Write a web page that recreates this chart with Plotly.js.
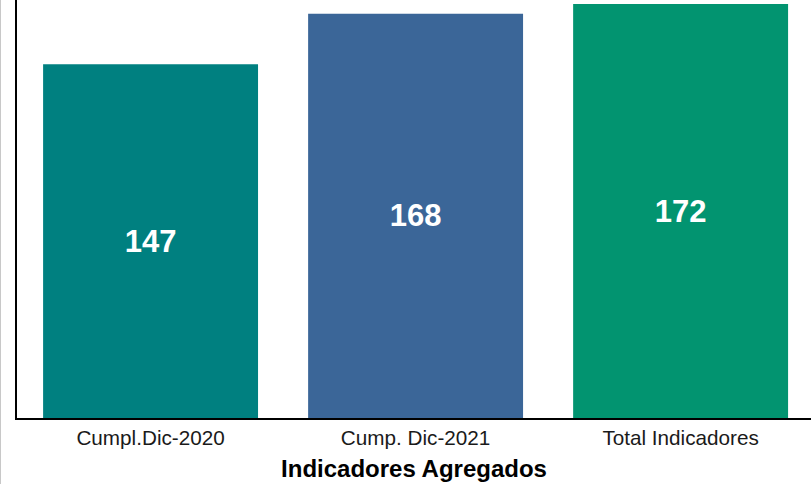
<!DOCTYPE html>
<html>
<head>
<meta charset="utf-8">
<script src="https://cdn.plot.ly/plotly-3.0.1.min.js"></script>
<style>
  html, body { margin: 0; padding: 0; background: #fff; }
  #wrap { position: relative; width: 811px; height: 484px; }
  #chart { position: absolute; left: 0; top: 0; width: 811px; height: 484px; }
  #edge { position: absolute; left: 0; top: 0; width: 1px; height: 484px; background: #c8c8c8; }
</style>
</head>
<body>
<div id="wrap"><div id="chart"></div><div id="edge"></div></div>
<script>
const categories = ["Cumpl.Dic-2020", "Cump. Dic-2021", "Total Indicadores"];
const values = [147, 168, 172];
const barColors = ["#008080", "#3B6698", "#029470"];
const xTitle = "Indicadores Agregados";

const trace = {
  type: "bar",
  x: categories,
  y: values,
  text: values.map(String),
  textposition: "inside",
  insidetextanchor: "middle",
  textfont: { family: "Liberation Sans, Arial, sans-serif", size: 31, color: "#ffffff", weight: "bold" },
  marker: { color: barColors, line: { width: 0 } },
  width: 0.811,
  hoverinfo: "none"
};

const layout = {
  width: 811,
  height: 484,
  margin: { l: 17, r: 0, t: 0, b: 66, pad: 0 },
  paper_bgcolor: "#ffffff",
  plot_bgcolor: "#ffffff",
  showlegend: false,
  font: { family: "Liberation Sans, Arial, sans-serif", color: "#1a1a1a" },
  xaxis: {
    type: "category",
    range: [-0.504, 2.492],
    showline: true,
    linecolor: "#000000",
    linewidth: 2,
    showgrid: false,
    zeroline: false,
    ticks: "",
    tickfont: { size: 20.7, color: "#1a1a1a" },
    title: { text: xTitle, font: { size: 24, color: "#000000", weight: "bold" }, standoff: 12 },
    automargin: false
  },
  yaxis: {
    range: [0, 173.7],
    showline: true,
    linecolor: "#000000",
    linewidth: 2,
    showgrid: false,
    zeroline: false,
    showticklabels: false,
    ticks: "",
    automargin: false
  }
};

Plotly.newPlot("chart", [trace], layout, { displayModeBar: false, staticPlot: true });
</script>
</body>
</html>
